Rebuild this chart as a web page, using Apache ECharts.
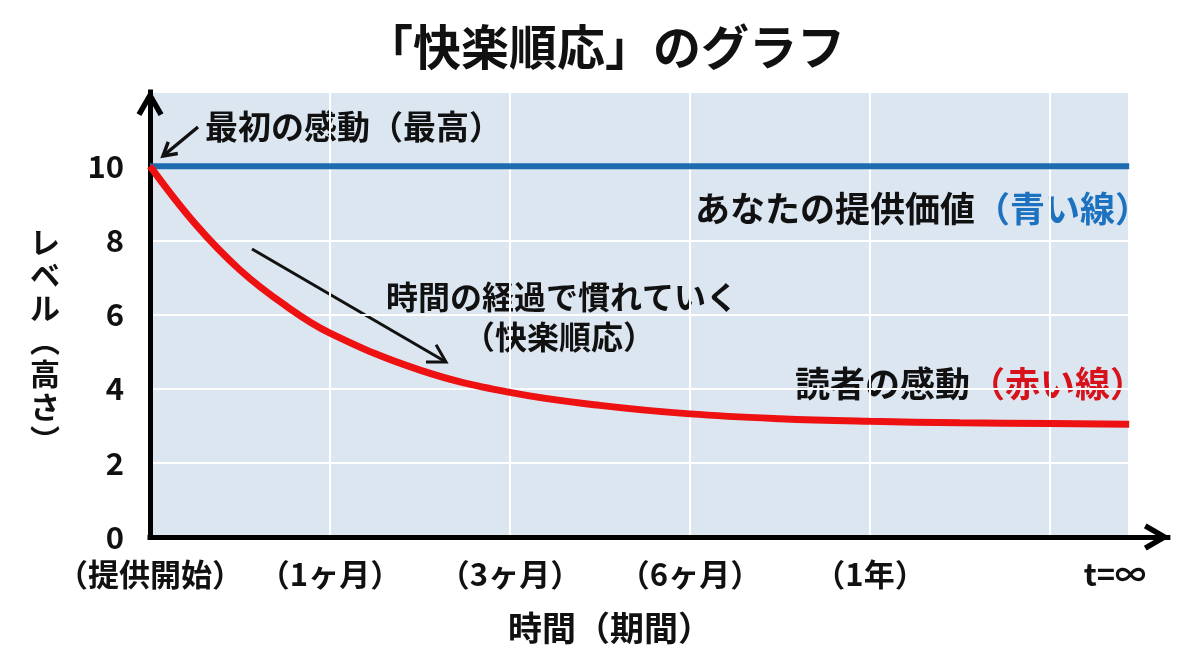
<!DOCTYPE html>
<html><head><meta charset="utf-8">
<script src="https://cdn.jsdelivr.net/npm/echarts@6/dist/echarts.min.js"></script>
<style>html,body{margin:0;padding:0;background:#fff}#c{width:1200px;height:655px}</style>
</head><body><div id="c"></div>
<script>
// ---- data ----
const timePoints = [0, 0.25, 0.5, 0.75, 1, 1.5, 2, 2.5, 3, 3.5, 4, 4.5, 5, 5.44];
const readerEmotion = [10, 8.45, 7.2, 6.25, 5.5, 4.5, 3.9, 3.55, 3.32, 3.19, 3.12, 3.08, 3.06, 3.04];
const valueTimes = [0, 5.44];
const providedValue = [10, 10];
const xTickValues = [0, 1, 2, 3, 4, 5.36];
const xTickLabels = ['（提供開始）', '（1ヶ月）', '（3ヶ月）', '（6ヶ月）', '（1年）', 't=∞'];
const yMax = 12;
const yLabelMax = 10;
const plotEnd = 5.44;
const axisEnd = 5.655;

// ---- layout ----
const FONT = "'Noto Sans CJK JP', 'Noto Sans', sans-serif";
const unitPx = 180;
const gridLeft = 150, gridTop = 92, gridHeight = 445;
const BG = '#dce6f1';
const BLUE = '#1f6bb0', BLUE_TXT = '#1d72c0';
const RED = '#ee1111', RED_TXT = '#d8121b';
const chevron = 'path://M45,0 L90,78 L74,87 L45,36 L16,87 L0,78 Z';

function arrow(x1, y1, x2, y2, head, width) {
  const ang = Math.atan2(y2 - y1, x2 - x1);
  const a1 = ang + Math.PI - Math.PI / 6, a2 = ang + Math.PI + Math.PI / 6;
  return [
    { type: 'line', shape: { x1, y1, x2, y2 }, style: { stroke: '#111', lineWidth: width } },
    { type: 'polyline', shape: { points: [
        [x2 + head * Math.cos(a1), y2 + head * Math.sin(a1)], [x2, y2],
        [x2 + head * Math.cos(a2), y2 + head * Math.sin(a2)]] },
      style: { stroke: '#111', lineWidth: width, fill: null, lineJoin: 'miter' } }
  ];
}

const chart = echarts.init(document.getElementById('c'));
chart.setOption({
  animation: false,
  backgroundColor: '#fff',
  grid: [
    { left: gridLeft, top: gridTop, width: plotEnd * unitPx, height: gridHeight,
      show: true, backgroundColor: BG, borderWidth: 0 },
    { left: gridLeft, top: gridTop, width: axisEnd * unitPx, height: gridHeight, show: false }
  ],
  xAxis: [
    { type: 'value', gridIndex: 0, min: 0, max: plotEnd, interval: 1,
      axisLine: { show: false }, axisTick: { show: false }, axisLabel: { show: false },
      splitLine: { show: true, lineStyle: { color: '#fff', width: 2 } } },
    { type: 'value', gridIndex: 1, min: 0, max: axisEnd, interval: 1,
      axisLine: { show: true, symbol: ['none', chevron], symbolSize: [27, 26], symbolOffset: [0, -11],
        lineStyle: { color: '#000', width: 5, cap: 'square' } },
      axisTick: { show: false }, splitLine: { show: false },
      axisLabel: { show: true, customValues: xTickValues, margin: 22,
        fontFamily: FONT, fontSize: 31, fontWeight: 'bold', color: '#111',
        formatter: function (v) {
          let best = 0;
          xTickValues.forEach(function (t, i) { if (Math.abs(t - v) < Math.abs(xTickValues[best] - v)) best = i; });
          return xTickLabels[best];
        } } }
  ],
  yAxis: [
    { type: 'value', gridIndex: 0, min: 0, max: yMax, interval: 2,
      axisLine: { show: false }, axisTick: { show: false }, axisLabel: { show: false },
      splitLine: { show: true, lineStyle: { color: '#fff', width: 2 } } },
    { type: 'value', gridIndex: 1, min: 0, max: yMax, interval: 2,
      axisLine: { show: true, symbol: ['none', chevron], symbolSize: [27, 26], symbolOffset: [0, -11],
        lineStyle: { color: '#000', width: 5, cap: 'square' } },
      axisTick: { show: false }, splitLine: { show: false },
      axisLabel: { show: true, margin: 26, fontFamily: FONT, fontSize: 31, fontWeight: 'bold', color: '#111',
        formatter: function (v) { return v > yLabelMax ? '' : String(v); } } }
  ],
  series: [
    { type: 'line', xAxisIndex: 0, yAxisIndex: 0, clip: false, showSymbol: false, z: 3,
      data: valueTimes.map(function (t, i) { return [t, providedValue[i]]; }),
      lineStyle: { color: BLUE, width: 6 } },
    { type: 'line', xAxisIndex: 0, yAxisIndex: 0, clip: false, showSymbol: false, smooth: 0.4, z: 4,
      data: timePoints.map(function (t, i) { return [t, readerEmotion[i]]; }),
      lineStyle: { color: RED, width: 7 } }
  ],
  graphic: [
    { type: 'text', x: 605, y: 47, style: { text: '「快楽順応」のグラフ', font: 'bold 48px ' + FONT,
        fill: '#111', align: 'center', verticalAlign: 'middle' } },
    { type: 'text', x: 205, y: 126, style: { text: '最初の感動（最高）', font: 'bold 33px ' + FONT,
        fill: '#111', align: 'left', verticalAlign: 'middle' } },
    { type: 'text', x: 1150, y: 209, style: { text: '{a|あなたの提供価値}{b|（青い線）}',
        align: 'right', verticalAlign: 'middle',
        rich: { a: { font: 'bold 35px ' + FONT, fill: '#111' }, b: { font: 'bold 35px ' + FONT, fill: BLUE_TXT } } } },
    { type: 'text', x: 562, y: 297, style: { text: '時間の経過で慣れていく', font: 'bold 32px ' + FONT,
        fill: '#111', align: 'center', verticalAlign: 'middle' } },
    { type: 'text', x: 559, y: 337, style: { text: '（快楽順応）', font: 'bold 32px ' + FONT,
        fill: '#111', align: 'center', verticalAlign: 'middle' } },
    { type: 'text', x: 1145, y: 384, style: { text: '{a|読者の感動}{b|（赤い線）}',
        align: 'right', verticalAlign: 'middle',
        rich: { a: { font: 'bold 35px ' + FONT, fill: '#111' }, b: { font: 'bold 35px ' + FONT, fill: RED_TXT } } } },
    { type: 'text', x: 610, y: 628, style: { text: '時間（期間）', font: 'bold 34px ' + FONT,
        fill: '#111', align: 'center', verticalAlign: 'middle' } },
    { type: 'text', x: 45, y: 341, style: { text: 'レ\nベ\nル\n︵\n高\nさ\n︶', font: 'bold 30px ' + FONT,
        lineHeight: 33, fill: '#111', align: 'center', verticalAlign: 'middle' } }
  ].concat(arrow(198, 127, 163, 156, 15, 3.5)).concat(arrow(252, 249, 446, 362, 20, 3))
});
</script></body></html>
